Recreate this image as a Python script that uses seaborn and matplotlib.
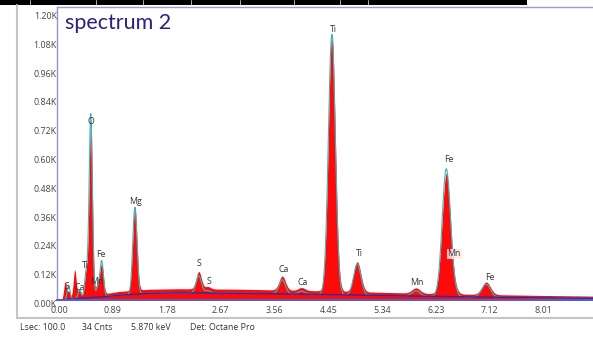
import numpy as np
import pandas as pd
import matplotlib
matplotlib.use("Agg")
import matplotlib.pyplot as plt
import seaborn as sns
from matplotlib.lines import Line2D
from matplotlib.patches import Rectangle

# X-ray lines: energy (keV), measured net peak height and fitted net peak height (K counts)
line_energy = [0.10, 0.16, 0.26, 0.34, 0.45, 0.525, 0.637, 0.705, 1.254,
               2.31, 2.46, 3.69, 4.01, 4.51, 4.93, 5.90, 6.40, 6.49, 7.06]
measured_net = [0.070, 0.030, 0.115, 0.030, 0.100, 0.730, 0.045, 0.125, 0.350,
                0.072, 0.010, 0.058, 0.012, 1.070, 0.125, 0.022, 0.490, 0.030, 0.052]
fitted_net = [0.000, 0.058, 0.000, 0.035, 0.110, 0.765, 0.035, 0.150, 0.362,
              0.072, 0.010, 0.058, 0.012, 1.085, 0.130, 0.022, 0.520, 0.030, 0.054]

# Continuum: modelled background and measured continuum (K counts)
bg_energy = [0.0, 0.3, 0.6, 1.0, 1.5, 2.0, 3.0, 4.0, 5.0, 6.0, 7.0, 8.0, 8.9]
bg_counts = [0.0, 0.006, 0.011, 0.020, 0.028, 0.030, 0.028, 0.025, 0.020, 0.016, 0.012, 0.009, 0.007]
meas_continuum = [0.0, 0.012, 0.020, 0.036, 0.045, 0.047, 0.045, 0.040, 0.034, 0.028, 0.023, 0.019, 0.016]

# Peak labels: text, energy (keV), label height (K counts)
label_text = ["O", "Mg", "Ti", "Ti", "Fe", "Mn", "Fe", "Mn", "Ca", "Ca", "S", "S",
              "S", "Ca", "Ti", "Mn", "Fe"]
label_energy = [0.53, 1.26, 4.53, 4.96, 6.45, 6.53, 7.12, 5.92, 3.72, 4.03, 2.31, 2.48,
                0.13, 0.34, 0.44, 0.62, 0.70]
label_height = [0.745, 0.41, 1.125, 0.195, 0.585, 0.192, 0.092, 0.072, 0.125, 0.072,
                0.150, 0.075, 0.055, 0.050, 0.142, 0.075, 0.188]

x_ticks = [0.00, 0.89, 1.78, 2.67, 3.56, 4.45, 5.34, 6.23, 7.12, 8.01]
y_ticks = [0.00, 0.12, 0.24, 0.36, 0.48, 0.60, 0.72, 0.84, 0.96, 1.08, 1.20]

status_text = ["Lsec: 100.0", "34 Cnts", "5.870 keV", "Det: Octane Pro"]


def fwhm(e):
    # detector energy resolution (keV)
    return np.sqrt(0.0022 + 0.0036 * e)


energy = np.arange(0.0, 8.9, 0.004)


def build(heights, cont):
    y = np.interp(energy, bg_energy, cont)
    for e0, h in zip(line_energy, heights):
        s = fwhm(e0) / 2.3548
        y = y + h * np.exp(-0.5 * ((energy - e0) / s) ** 2)
    return y


df = pd.DataFrame({
    "energy": energy,
    "measured": build(measured_net, meas_continuum),
    "fit": build(fitted_net, bg_counts),
    "background": np.interp(energy, bg_energy, bg_counts),
})

sns.set_theme(style="white")
plt.rcParams["font.family"] = ["Open Sans", "DejaVu Sans"]

W, H = 593, 337
fig = plt.figure(figsize=(W / 100, H / 100), dpi=100)
fig.patch.set_facecolor("white")

x0, x1, y_zero, y_top = 57, 593, 300, 7
ax = fig.add_axes([x0 / W, (H - y_zero) / H, (x1 - x0) / W, (y_zero - y_top) / H])
px_per_kev = 60.5
ax.set_xlim(-2 / px_per_kev, (x1 - 59) / px_per_kev)
ax.set_ylim(0, (y_zero - y_top) / 240.0)

ax.fill_between(df["energy"], df["measured"], 0, color="#ff0a0a", lw=0, zorder=2)
sns.lineplot(data=df, x="energy", y="fit", color="#3fb4bd", lw=0.8,
             estimator=None, errorbar=None, ax=ax, zorder=3)
sns.lineplot(data=df, x="energy", y="background", color="#2c2c9c", lw=1.0,
             estimator=None, errorbar=None, ax=ax, zorder=4)

for t, e, h in zip(label_text, label_energy, label_height):
    kw = {}
    if t == "Mn" and e > 6.3:
        kw["bbox"] = dict(boxstyle="square,pad=0.1", fc="#ffe8e8", ec="none", alpha=0.85)
    ax.text(e, h, t, ha="center", va="center", fontsize=6.3, color="#333333", zorder=6, **kw)

ax.set_xticks(x_ticks)
ax.set_xticklabels([f"{v:.2f}" for v in x_ticks])
ax.set_yticks(y_ticks)
ax.set_yticklabels([f"{v:.2f}K" for v in y_ticks])
ax.tick_params(axis="both", length=0, labelsize=6.4, labelcolor="#444444")
ax.tick_params(axis="y", pad=0)
ax.tick_params(axis="x", pad=4)
for lab in ax.get_yticklabels():
    lab.set_verticalalignment("top")
ax.set_xlabel("")
ax.set_ylabel("")

ax.spines["right"].set_visible(False)
ax.spines["left"].set_color("#8f8fdc")
ax.spines["left"].set_linewidth(1.0)
ax.spines["top"].set_color("#9a9ad6")
ax.spines["top"].set_linewidth(1.0)
ax.spines["bottom"].set_color("#5a5ac8")
ax.spines["bottom"].set_linewidth(1.4)
ax.spines["bottom"].set_zorder(5)

# title inside the plot
fig.text(65 / W, 1 - 29 / H, "spectrum 2", fontsize=15.5, color="#2a1f86",
         family=["Lato", "DejaVu Sans"], va="baseline", ha="left")

# panel border
fig.add_artist(Line2D([17 / W, 17 / W], [1 - 5 / H, 1 - 318 / H], color="#c4c4c4", lw=1.5))
fig.add_artist(Line2D([17 / W, 1.0], [1 - 318 / H, 1 - 318 / H], color="#c4c4c4", lw=1.5))

# header bar
fig.add_artist(Rectangle((0, 1 - 5 / H), 527 / W, 5 / H, color="black", lw=0))
for xd in [30, 96, 143, 191, 240, 294, 340, 368]:
    fig.add_artist(Line2D([xd / W, xd / W], [1 - 5 / H, 1.0], color="#cccccc", lw=0.6))

# status line
for t, xp in zip(status_text, [20, 82, 131, 190]):
    fig.text(xp / W, 1 - 328 / H, t, fontsize=6.3, color="#333333", ha="left", va="center")

fig.savefig("out.png", dpi=100)
